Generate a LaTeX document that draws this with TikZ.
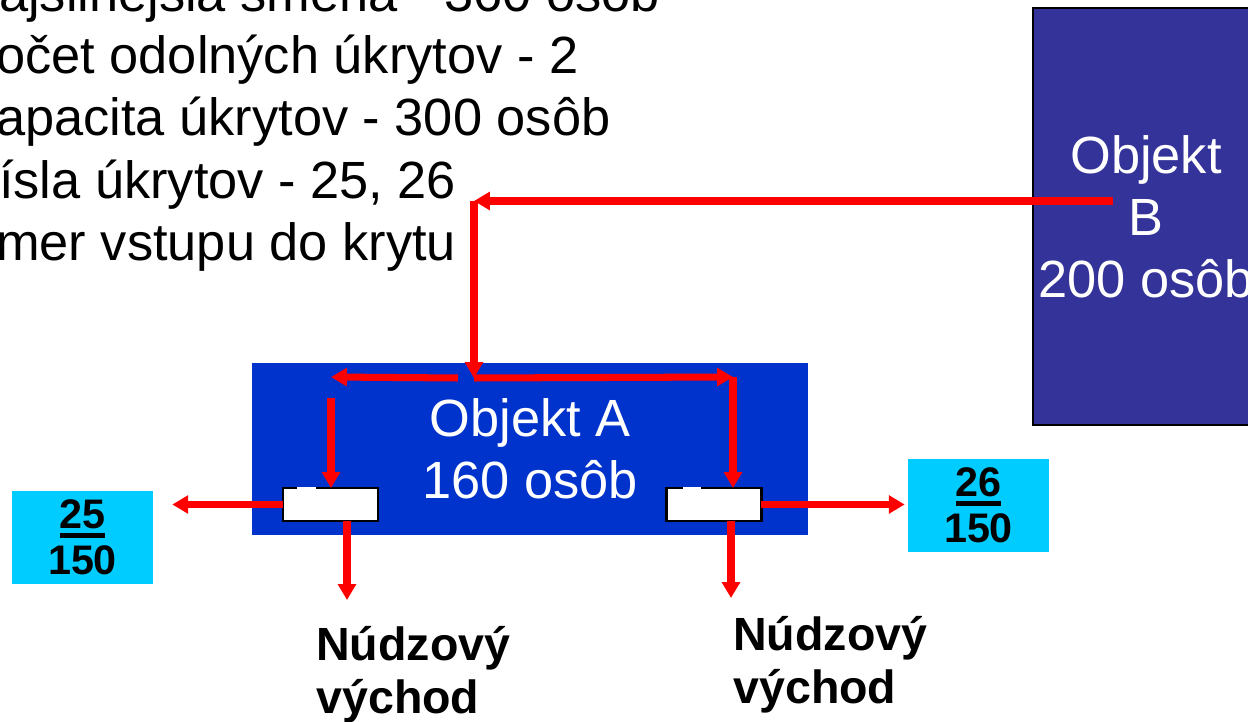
\documentclass[tikz,border=0pt]{standalone}
\usepackage{fontspec}
\setmainfont{Liberation Sans}
\usetikzlibrary{arrows.meta,calc}
\definecolor{objablue}{RGB}{0,51,204}
\definecolor{objbblue}{RGB}{51,51,153}
\definecolor{krytcyan}{RGB}{0,204,255}
\newcommand\thickul[1]{\vtop{\hbox{#1}\kern2.2pt\hrule height 2.8pt}}

\begin{document}
\begin{tikzpicture}[x=0.02cm,y=-0.02cm,
    arr/.style={red,line width=4pt,-{Triangle[length=9pt,width=10pt]}},
    txt/.style={font=\fontsize{29.8}{35.4}\selectfont},
    exitlbl/.style={font=\fontsize{26.5}{30}\selectfont\bfseries,align=left,inner sep=0pt,anchor=north west},
    kryt/.style={fill=krytcyan,minimum width=2.82cm,minimum height=1.86cm,inner sep=0pt,align=center,font=\fontsize{23.5}{26}\selectfont\bfseries},
    door/.style={draw=black,line width=1.6pt,fill=white,minimum width=1.9cm,minimum height=0.66cm,inner sep=0pt,outer sep=0pt}]

    \path[use as bounding box,clip](0,0)rectangle(1248,722);

    % info text, cut by the page edge
    \node[txt,align=left,anchor=north west,inner sep=0pt](info)at(-39,-27){Najsilnejšia smena - 360 osôb\\Počet odolných úkrytov - 2\\Kapacita úkrytov - 300 osôb\\Čísla úkrytov - 25, 26\\Smer vstupu do krytu};

    % objects
    \node[txt,fill=objablue,text=white,minimum width=11.12cm,minimum height=3.44cm,align=center](objA)at(530,449){Objekt A\\160 osôb};
    \node[txt,fill=objbblue,draw=black,line width=1.2pt,text=white,inner sep=0pt,minimum width=4.52cm,minimum height=8.34cm,align=center](objB)at(1146,216.5){Objekt\\B\\200 osôb};

    % doors
    \node[door](door1)at(330.5,504.5){};
    \node[door](door2)at(714,504.5){};
    \draw[white,line width=1.6pt]($(door1.north west)+(14,0)$)--($(door1.north west)+(33,0)$);
    \draw[white,line width=1.6pt]($(door2.north west)+(16,0)$)--($(door2.north west)+(34,0)$);

    % shelters
    \node[kryt](k25)at(82.5,537.5){\thickul{25}\\150};
    \node[kryt](k26)at(978.5,505.5){\thickul{26}\\150};

    \node[exitlbl](exit1)at(316,626){Núdzový\\východ};
    \node[exitlbl](exit2)at(733,616){Núdzový\\východ};

    \coordinate(bOut)at(1113,201);
    \coordinate(junc)at(474,201);
    \coordinate(split)at(474,378);
    \coordinate(cornL)at(331,377);
    \coordinate(cornR)at(733,377);
    \coordinate(out1)at(347,600);
    \coordinate(out2)at(731,598);

    % ways in
    \draw[arr](bOut)--(junc);
    \draw[arr](junc)--(split);
    \draw[arr]($(split)+(-16,0)$)--(cornL);
    \draw[arr](split)--(cornR);
    \draw[arr]($(cornL)+(0,21)$)--(cornL|-door1.north);
    \draw[arr](cornR)--(cornR|-door2.north);
    % ways out
    \draw[arr](door1.west)--($(door1.west-|k25.east)+(19,0)$);
    \draw[arr](door2.east)--($(door2.east-|k26.west)+(-3,0)$);
    \draw[arr](out1|-door1.south)--(out1);
    \draw[arr](out2|-door2.south)--(out2);
\end{tikzpicture}
\end{document}
